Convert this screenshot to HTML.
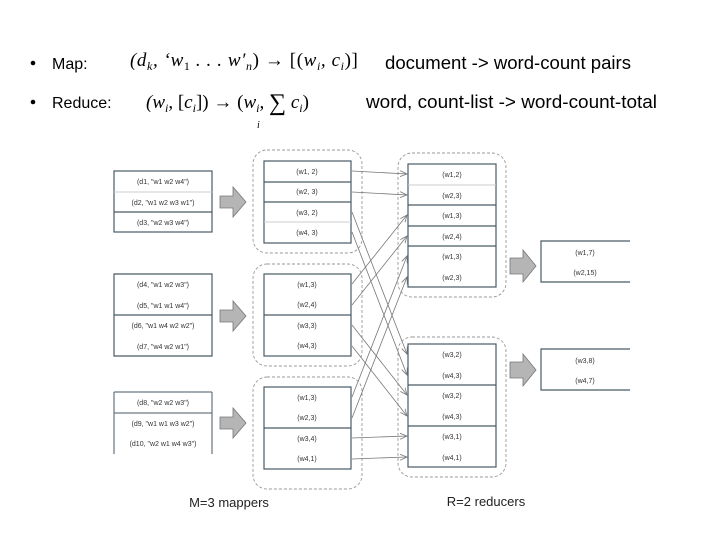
<!DOCTYPE html>
<html><head><meta charset="utf-8"><style>
html,body{margin:0;padding:0;background:#fff;width:720px;height:540px;overflow:hidden}
svg{display:block}
.t{font-family:"Liberation Sans",sans-serif;font-size:7px;fill:#333;text-anchor:middle}
.h{font-family:"Liberation Sans",sans-serif;font-size:16px;fill:#000}
.m{font-family:"Liberation Serif",serif;font-size:19px;fill:#000;font-style:italic}
</style></head><body>
<svg width="720" height="540" viewBox="0 0 720 540" xmlns="http://www.w3.org/2000/svg">
<defs><marker id="a" markerWidth="8" markerHeight="8" refX="7" refY="4" orient="auto" markerUnits="userSpaceOnUse"><path d="M0,1 L7,4 L0,7" fill="none" stroke="#777" stroke-width="0.8"/></marker></defs>
<!-- header -->
<circle cx="33" cy="63" r="2.3" fill="#000"/>
<text class="h" x="52" y="69">Map:</text>
<circle cx="33" cy="102" r="2.3" fill="#000"/>
<text class="h" x="52" y="108">Reduce:</text>
<text class="m" x="130" y="66" style="letter-spacing:0.6px">(d<tspan style="font-size:12px" dy="4">k</tspan><tspan dy="-4">, ‘w</tspan><tspan style="font-size:12px;font-style:normal" dy="4">1</tspan><tspan dy="-4"> . . . w′</tspan><tspan style="font-size:12px" dy="4">n</tspan><tspan dy="-4" style="font-style:normal">) → [(</tspan>w<tspan style="font-size:12px" dy="4">i</tspan><tspan dy="-4">, c</tspan><tspan style="font-size:12px" dy="4">i</tspan><tspan dy="-4" style="font-style:normal">)]</tspan></text>
<text class="m" x="146" y="108">(w<tspan style="font-size:12px" dy="4">i</tspan><tspan dy="-4" style="font-style:normal">, [</tspan>c<tspan style="font-size:12px" dy="4">i</tspan><tspan dy="-4" style="font-style:normal">]) → (</tspan>w<tspan style="font-size:12px" dy="4">i</tspan><tspan dy="-4">, </tspan><tspan style="font-style:normal;font-size:24px" dy="2">∑</tspan><tspan dy="-2"> c</tspan><tspan style="font-size:12px" dy="4">i</tspan><tspan dy="-4" style="font-style:normal">)</tspan></text>
<text x="257" y="128" style="font-family:'Liberation Serif',serif;font-size:10px;font-style:italic">i</text>
<text class="h" x="385" y="69" style="font-size:18px" textLength="246" lengthAdjust="spacingAndGlyphs">document -&gt; word-count pairs</text>
<text class="h" x="366" y="108" style="font-size:18px" textLength="291" lengthAdjust="spacingAndGlyphs">word, count-list -&gt; word-count-total</text>

<g fill="none" stroke="#999" stroke-width="0.9" stroke-dasharray="3,2">
<rect x="253" y="150" width="109" height="103" rx="14"/>
<rect x="253" y="264" width="109" height="102" rx="14"/>
<rect x="253" y="377" width="109" height="112" rx="14"/>
<rect x="398" y="153" width="108" height="144" rx="14"/>
<rect x="398" y="337" width="108" height="140" rx="14"/>
</g>

<g stroke="#4a5a66" stroke-width="1.2" fill="#fff">
<rect x="114" y="171" width="98" height="61"/>
<path d="M114 212H212" />
<path d="M114 274H212V356H114ZM114 315H212" />
<path d="M114 392H212M212 392V454M114 392V454M114 413H212" stroke-width="1"/>
<rect x="264" y="161" width="87" height="82"/>
<path d="M264 182H351M264 202H351"/>
<rect x="264" y="274" width="87" height="82"/>
<path d="M264 315H351"/>
<rect x="264" y="387" width="87" height="82"/>
<path d="M264 428H351"/>
<rect x="408" y="164" width="88" height="123"/>
<path d="M408 205H496M408 246H496M408 226H496"/>
<rect x="408" y="344" width="88" height="123"/>
<path d="M408 385H496M408 426H496"/>
<path d="M630 241H541V282H630"/>
<path d="M630 349H541V390H630"/>
</g>
<g stroke="#ccc" stroke-width="1"><path d="M114 192H212M264 222H351M408 185H496"/></g>

<g fill="#b5b5b5" stroke="#777" stroke-width="0.8">
<path d="M220 196H233V187L246 202L233 217V208H220Z"/>
<path d="M220 310H233V301L246 316L233 331V322H220Z"/>
<path d="M220 417H233V408L246 423L233 438V429H220Z"/>
<path d="M510 258H523V250L536 266L523 282V274H510Z"/>
<path d="M510 362H523V354L536 370L523 386V378H510Z"/>
</g>

<g stroke="#777" stroke-width="0.8" fill="none" marker-end="url(#a)">
<path d="M352 171L407 174"/><path d="M352 192L407 195"/>
<path d="M352 212L407 354"/><path d="M352 232L407 375"/>
<path d="M352 284L407 215"/><path d="M352 305L407 236"/>
<path d="M352 325L407 395"/><path d="M352 346L407 416"/>
<path d="M352 397L407 256"/><path d="M352 418L407 277"/>
<path d="M352 438L407 436"/><path d="M352 459L407 457"/>
</g>

<g class="t">
<text x="163" y="184">(d1, "w1 w2 w4")</text>
<text x="163" y="205">(d2, "w1 w2 w3 w1")</text>
<text x="163" y="225">(d3, "w2 w3 w4")</text>
<text x="163" y="287">(d4, "w1 w2 w3")</text>
<text x="163" y="308">(d5, "w1 w1 w4")</text>
<text x="163" y="328">(d6, "w1 w4 w2 w2")</text>
<text x="163" y="349">(d7, "w4 w2 w1")</text>
<text x="163" y="405">(d8, "w2 w2 w3")</text>
<text x="163" y="426">(d9, "w1 w1 w3 w2")</text>
<text x="163" y="446">(d10, "w2 w1 w4 w3")</text>
<text x="307" y="174">(w1, 2)</text><text x="307" y="194">(w2, 3)</text><text x="307" y="215">(w3, 2)</text><text x="307" y="235">(w4, 3)</text>
<text x="307" y="287">(w1,3)</text><text x="307" y="307">(w2,4)</text><text x="307" y="328">(w3,3)</text><text x="307" y="348">(w4,3)</text>
<text x="307" y="400">(w1,3)</text><text x="307" y="420">(w2,3)</text><text x="307" y="441">(w3,4)</text><text x="307" y="461">(w4,1)</text>
<text x="452" y="177">(w1,2)</text><text x="452" y="198">(w2,3)</text><text x="452" y="218">(w1,3)</text><text x="452" y="239">(w2,4)</text><text x="452" y="259">(w1,3)</text><text x="452" y="280">(w2,3)</text>
<text x="452" y="357">(w3,2)</text><text x="452" y="378">(w4,3)</text><text x="452" y="398">(w3,2)</text><text x="452" y="419">(w4,3)</text><text x="452" y="439">(w3,1)</text><text x="452" y="460">(w4,1)</text>
<text x="585" y="255">(w1,7)</text><text x="585" y="275">(w2,15)</text>
<text x="585" y="363">(w3,8)</text><text x="585" y="383">(w4,7)</text>
</g>
<text x="229" y="507" font-family="Liberation Sans,sans-serif" font-size="13" fill="#222" text-anchor="middle">M=3 mappers</text>
<text x="486" y="506" font-family="Liberation Sans,sans-serif" font-size="13" fill="#222" text-anchor="middle">R=2 reducers</text>
</svg>
</body></html>
